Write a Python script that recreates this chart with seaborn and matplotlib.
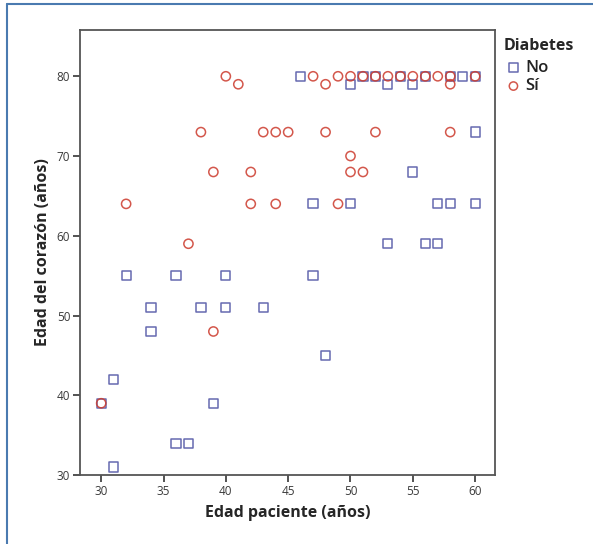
import pandas as pd
import seaborn as sns
import matplotlib.pyplot as plt

# Patient age vs heart age, split by diabetes status
edad_no = [30, 31, 31, 32, 34, 34, 36, 36, 37, 38, 39, 40, 40, 43, 46, 47, 47, 48,
           50, 50, 51, 52, 53, 53, 54, 55, 55, 56, 56, 57, 57, 58, 58, 59, 60, 60, 60]
corazon_no = [39, 42, 31, 55, 51, 48, 55, 34, 34, 51, 39, 55, 51, 51, 80, 64, 55, 45,
              79, 64, 80, 80, 79, 59, 80, 79, 68, 80, 59, 64, 59, 80, 64, 80, 80, 73, 64]

edad_si = [30, 32, 37, 38, 39, 39, 40, 41, 42, 42, 43, 44, 45, 44, 47, 48, 48, 49, 49,
           50, 50, 50, 51, 51, 52, 52, 53, 54, 55, 56, 57, 58, 58, 58, 60]
corazon_si = [39, 64, 59, 73, 68, 48, 80, 79, 68, 64, 73, 73, 73, 64, 80, 79, 73, 80, 64,
              80, 70, 68, 80, 68, 80, 73, 80, 80, 80, 80, 80, 80, 79, 73, 80]

grupos = ['No', 'Sí']
df = pd.concat([
    pd.DataFrame({'edad': edad_no, 'corazon': corazon_no, 'Diabetes': 'No'}),
    pd.DataFrame({'edad': edad_si, 'corazon': corazon_si, 'Diabetes': 'Sí'}),
])

colores = {'No': '#4b4fa3', 'Sí': '#cc3a2c'}
marcadores = {'No': 's', 'Sí': 'o'}

sns.set_style('white')
plt.rcParams['font.family'] = ['Open Sans', 'DejaVu Sans']

fig = plt.figure(figsize=(5.93, 5.44), dpi=100)
ax = fig.add_axes([0.1349, 0.1268, 0.70, 0.818])

for g in grupos:
    sub = df[df['Diabetes'] == g]
    sns.scatterplot(data=sub, x='edad', y='corazon', ax=ax, marker=marcadores[g],
                    s=44, facecolor='none', edgecolor=colores[g], linewidth=1.1,
                    alpha=0.85, label=g)

ax.set_xlim(28.3, 61.6)
ax.set_ylim(30, 85.8)
ax.set_xticks([30, 35, 40, 45, 50, 55, 60])
ax.set_yticks([30, 40, 50, 60, 70, 80])

for s in ax.spines.values():
    s.set_color('#555555')
    s.set_linewidth(1.3)
ax.tick_params(axis='both', direction='out', length=5, width=1.3, color='#444444',
               labelsize=8.5, labelcolor='#3a3a3a', pad=2, bottom=True, left=True)

ax.set_xlabel('Edad paciente (años)', fontsize=11.5, fontweight='bold', labelpad=5)
ax.set_ylabel('Edad del corazón (años)', fontsize=11.5, fontweight='bold', labelpad=4)

leg = ax.legend(title='Diabetes', loc='upper left', bbox_to_anchor=(1.0, 1.0),
                frameon=False, prop={'size': 12, 'weight': 'semibold'},
                title_fontsize=11.5, handletextpad=0.1, handlelength=1.2,
                labelspacing=0.15, borderaxespad=0.1, markerscale=0.9,
                alignment='left')
leg.get_title().set_fontweight('bold')
leg._legend_box.sep = 4
for t in leg.get_texts():
    t.set_color('#222222')

# page frame line along the top and left edge
fig.add_artist(plt.Line2D([0.011, 1.0], [0.992, 0.992], color='#4a7ab0', lw=1.5))
fig.add_artist(plt.Line2D([0.011, 0.011], [0.0, 0.992], color='#4a7ab0', lw=1.5))

fig.savefig('out.png', dpi=100)
